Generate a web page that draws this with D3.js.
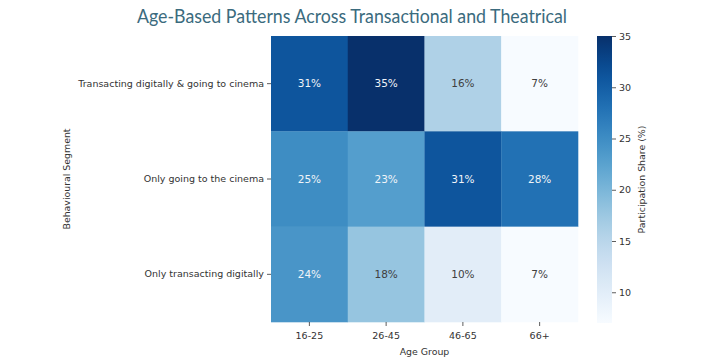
<!DOCTYPE html>
<html><head><meta charset="utf-8">
<script src="https://cdn.jsdelivr.net/npm/d3@7"></script>
<style>body{margin:0;background:#fff;} svg{display:block;}</style>
</head><body>
<svg id="c" width="718" height="358"></svg>
<script>
const ageGroups = ["16-25", "26-45", "46-65", "66+"];
const segments = ["Transacting digitally & going to cinema", "Only going to the cinema", "Only transacting digitally"];
const digitalAndCinema = [31, 35, 16, 7];
const onlyCinema = [25, 23, 31, 28];
const onlyDigital = [24, 18, 10, 7];
const colorTicks = [10, 15, 20, 25, 30, 35];
const colorDomain = [7, 35];

(function () {
const rows = [digitalAndCinema, onlyCinema, onlyDigital];
const cells = [];
rows.forEach((r, i) => r.forEach((v, j) => cells.push({seg: segments[i], age: ageGroups[j], v})));

const svg = d3.select("#c");
const font = "DejaVu Sans";
const pLeft = 271, pRight = 578, pTop = 36, pBottom = 322;

const x = d3.scaleBand().domain(ageGroups).range([pLeft, pRight]);
const y = d3.scaleBand().domain(segments).range([pTop, pBottom]);
const color = d3.scaleSequential(d3.interpolateBlues).domain(colorDomain);

const title = svg.append("text").attr("x", 352).attr("y", 23).attr("text-anchor", "middle")
  .attr("font-family", "Lato").attr("font-size", 18.5).attr("fill", "#3b6b7e")
  .text("Age-Based Patterns Across Transactional and Theatrical");
const tw = title.node().getComputedTextLength();
if (tw > 0) title.attr("textLength", 430).attr("lengthAdjust", "spacingAndGlyphs");

svg.append("g").selectAll("rect").data(cells).join("rect")
  .attr("x", d => x(d.age)).attr("y", d => y(d.seg))
  .attr("width", x.bandwidth() + 0.3).attr("height", y.bandwidth() + 0.3)
  .attr("fill", d => color(d.v));

svg.append("g").selectAll("text").data(cells).join("text")
  .attr("x", d => x(d.age) + x.bandwidth() / 2).attr("y", d => y(d.seg) + y.bandwidth() / 2)
  .attr("dy", "0.35em").attr("text-anchor", "middle")
  .attr("font-family", font).attr("font-size", 10.5)
  .attr("fill", d => d.v >= 21 ? "#f0f4f8" : "#404040")
  .text(d => d.v + "%");

const xAxis = svg.append("g").attr("transform", `translate(0,${pBottom})`)
  .call(d3.axisBottom(x).tickSize(4).tickPadding(6));
const yAxis = svg.append("g").attr("transform", `translate(${pLeft},0)`)
  .call(d3.axisLeft(y).tickSize(4).tickPadding(3));
[xAxis, yAxis].forEach(a => {
  a.select(".domain").remove();
  a.selectAll("line").attr("stroke", "#333").attr("stroke-width", 0.8);
  a.selectAll("text").attr("font-family", font).attr("font-size", 9.5).attr("fill", "#333");
});

svg.append("text").attr("x", (pLeft + pRight) / 2).attr("y", 355).attr("text-anchor", "middle")
  .attr("font-family", font).attr("font-size", 9.4).attr("fill", "#333").text("Age Group");
svg.append("text").attr("transform", `translate(70,${(pTop + pBottom) / 2}) rotate(-90)`)
  .attr("text-anchor", "middle").attr("font-family", font).attr("font-size", 9.4).attr("fill", "#333")
  .text("Behavioural Segment");

const cbX = 597, cbW = 15, cbTop = 36, cbBot = 323;
const cy = d3.scaleLinear().domain(colorDomain).range([cbBot, cbTop]);
const defs = svg.append("defs");
const grad = defs.append("linearGradient").attr("id", "g").attr("x1", 0).attr("y1", 1).attr("x2", 0).attr("y2", 0);
d3.range(0, 1.0001, 0.05).forEach(t => grad.append("stop").attr("offset", t)
  .attr("stop-color", color(colorDomain[0] + t * (colorDomain[1] - colorDomain[0]))));
svg.append("rect").attr("x", cbX).attr("y", cbTop).attr("width", cbW).attr("height", cbBot - cbTop).attr("fill", "url(#g)");
const cAxis = svg.append("g").attr("transform", `translate(${cbX + cbW},0)`)
  .call(d3.axisRight(cy).tickValues(colorTicks).tickSize(4).tickPadding(3));
cAxis.select(".domain").remove();
cAxis.selectAll("line").attr("stroke", "#333").attr("stroke-width", 0.8);
cAxis.selectAll("text").attr("font-family", font).attr("font-size", 9.5).attr("fill", "#333");
svg.append("text").attr("transform", `translate(645,${(cbTop + cbBot) / 2}) rotate(-90)`)
  .attr("text-anchor", "middle").attr("font-family", font).attr("font-size", 9.4).attr("fill", "#333")
  .text("Participation Share (%)");
})();
</script>
</body></html>
